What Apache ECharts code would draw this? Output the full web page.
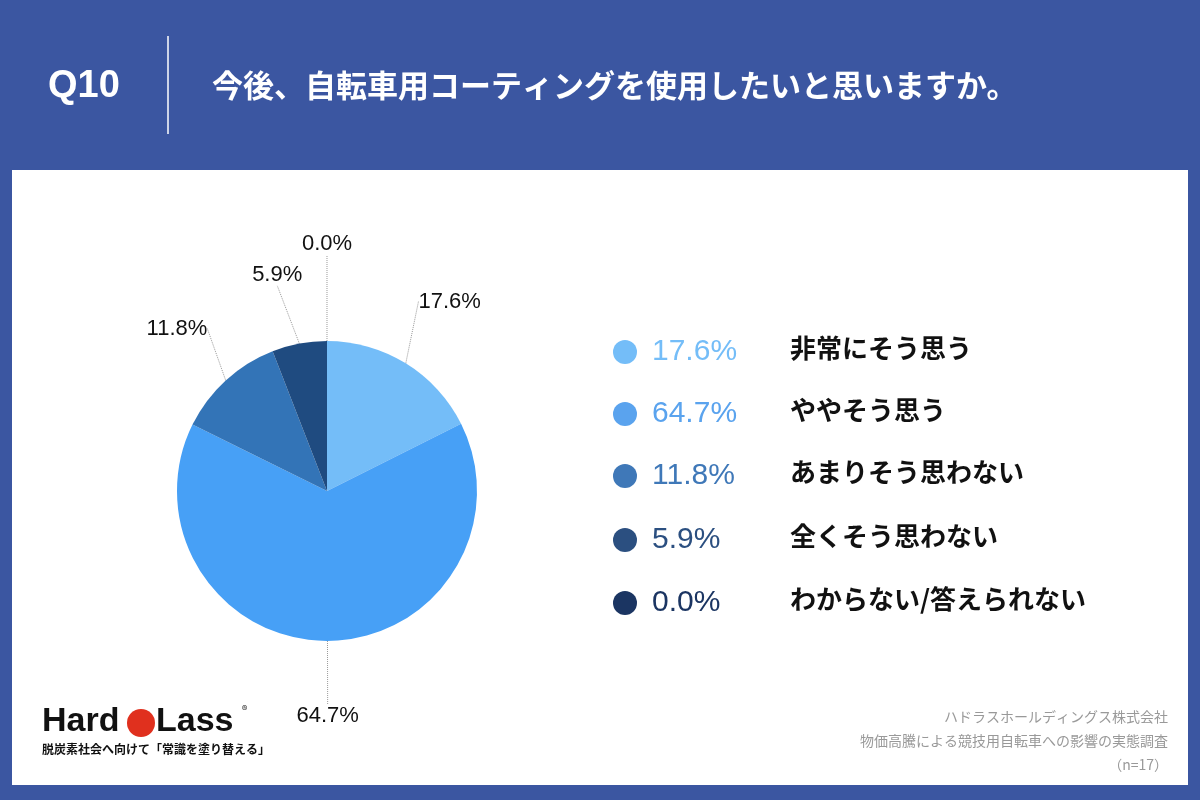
<!DOCTYPE html>
<html lang="ja">
<head>
<meta charset="utf-8">
<title>index</title>
<style>
  html, body { margin: 0; padding: 0; background: #3b56a1; }
</style>
</head>
<body>
<div id="main" style="width:1200px;height:800px;"></div>
<script src="https://cdn.jsdelivr.net/npm/echarts@6/dist/echarts.min.js"></script>
<script>
  // 回答データ
  var categories = ['非常にそう思う', 'ややそう思う', 'あまりそう思わない', '全くそう思わない', 'わからない/答えられない'];
  var values = [17.6, 64.7, 11.8, 5.9, 0.0];
  var colors = ['#74bdf8', '#47a0f6', '#3374b7', '#1f4b80', '#1b3562'];
  var legendColors = ['#74bdf8', '#5aa3ee', '#3f78b8', '#2b4f80', '#1b3562'];
  var lineLengths = [55, 60, 50, 55, 82];
  var labelDx = [15, 0, -15, -12, 0];

  var font = '"Noto Sans CJK JP", "Noto Sans", sans-serif';
  var numFont = '"Liberation Sans", Arial, sans-serif';
  var myChart = echarts.init(document.getElementById('main'));

  var legendRows = [];
  var rowY = [352, 414, 476, 540, 603];
  categories.forEach(function (name, i) {
    legendRows.push({
      type: 'circle', shape: { cx: 625, cy: rowY[i], r: 12 },
      style: { fill: legendColors[i] }
    });
    legendRows.push({
      type: 'text', left: 652, top: rowY[i] - 15,
      style: { text: values[i].toFixed(1) + '%', fill: legendColors[i], font: '30px ' + numFont }
    });
    legendRows.push({
      type: 'text', left: 790, top: rowY[i] - 17,
      style: { text: name, fill: '#111', font: 'bold 26px ' + font }
    });
  });

  var option = {
    backgroundColor: '#3b56a1',
    graphic: [
      { type: 'rect', shape: { x: 12, y: 170, width: 1176, height: 615 }, style: { fill: '#fff' } },
      { type: 'text', left: 48, top: 68, style: { text: 'Q10', fill: '#fff', font: 'bold 38px ' + numFont } },
      { type: 'line', shape: { x1: 168, y1: 36, x2: 168, y2: 134 }, style: { stroke: '#fff', lineWidth: 1.5 } },
      { type: 'text', left: 212, top: 70, style: { text: '今後、自転車用コーティングを使用したいと思いますか。', fill: '#fff', font: 'bold 31px ' + font } },
      { type: 'text', left: 42, top: 705, style: { text: 'Hard', fill: '#111', font: 'bold 34px ' + numFont } },
      { type: 'circle', shape: { cx: 141, cy: 723, r: 14 }, style: { fill: '#e0301e' } },
      { type: 'text', left: 156, top: 705, style: { text: 'Lass', fill: '#111', font: 'bold 34px ' + numFont } },
      { type: 'text', left: 242, top: 704, style: { text: '®', fill: '#111', font: '11px ' + font } },
      { type: 'text', left: 42, top: 743, style: { text: '脱炭素社会へ向けて「常識を塗り替える」', fill: '#111', font: 'bold 12px ' + font } },
      { type: 'text', right: 32, top: 710, style: { text: 'ハドラスホールディングス株式会社', fill: '#999', font: '14px ' + font, align: 'right' } },
      { type: 'text', right: 32, top: 734, style: { text: '物価高騰による競技用自転車への影響の実態調査', fill: '#999', font: '14px ' + font, align: 'right' } },
      { type: 'text', right: 32, top: 758, style: { text: '（n=17）', fill: '#999', font: '14px ' + font, align: 'right' } }
    ].concat(legendRows),
    series: [{
      type: 'pie',
      center: [327, 491],
      radius: [0, 150],
      startAngle: 90,
      clockwise: true,
      minShowLabelAngle: 0,
      avoidLabelOverlap: false,
      labelLayout: function (params) {
        var pts = params.labelLinePoints;
        if (!pts) return { hideOverlap: false };
        var end = pts[pts.length - 1];
        var below = params.dataIndex === 1;
        return {
          x: end[0] + labelDx[params.dataIndex], y: below ? end[1] + 4 : end[1] - 4,
          align: 'center', verticalAlign: below ? 'top' : 'bottom',
          hideOverlap: false
        };
      },
      color: colors,
      data: categories.map(function (c, i) {
        return { name: c, value: Math.max(values[i], 0.001), labelLine: { length: lineLengths[i] } };
      }),
      label: {
        formatter: function (p) { return values[p.dataIndex].toFixed(1) + '%'; },
        color: '#111', fontSize: 22, fontFamily: numFont
      },
      labelLine: { show: true, length: 40, length2: 0, lineStyle: { color: '#999', type: 'dotted', width: 1 } }
    }]
  };
  myChart.setOption(option);
</script>
</body>
</html>
